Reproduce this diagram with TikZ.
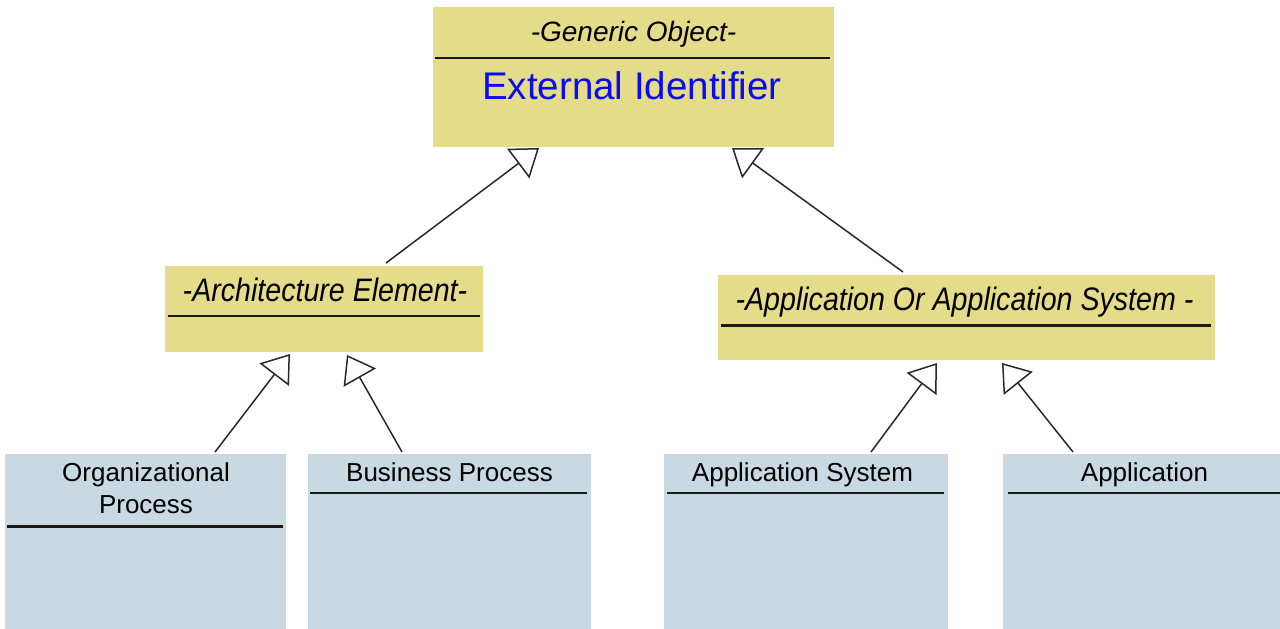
\documentclass[tikz,border=0pt]{standalone}
\usepackage{fontspec}
\setmainfont{Liberation Sans}
\newfontfamily\narrowsans{Liberation Sans}[FakeStretch=0.88]
\usetikzlibrary{arrows.meta}
\definecolor{umlyellow}{RGB}{228,220,136}
\definecolor{umlblue}{RGB}{200,217,225}
\definecolor{idblue}{RGB}{10,10,245}
\definecolor{linegray}{RGB}{40,40,40}
\tikzset{
  abox/.style={fill=umlyellow, draw=none},
  cbox/.style={fill=umlblue, draw=none},
  sepline/.style={line width=2.2pt, draw=black!90},
  atitle/.style={anchor=base, inner sep=0pt, font=\fontsize{28}{32}\selectfont\itshape},
  ntitle/.style={anchor=base, inner sep=0pt, font=\narrowsans\fontsize{32.5}{36}\selectfont\itshape},
  ctitle/.style={anchor=base, inner sep=0pt, font=\fontsize{26}{32}\selectfont},
  gen/.style={draw=linegray, line width=1.5pt, -{Triangle[open, length=26pt, width=37pt, line width=1.5pt]}}
}
\begin{document}
\begin{tikzpicture}[x=1pt, y=-1pt]
\useasboundingbox (0,0) rectangle (1280,629);
% Generic Object
\path[abox] (433,7) rectangle (834,147);
\draw[sepline] (435,58) -- (830,58);
\node[atitle] (goT) at (633.5,41) {-Generic Object-};
\node[anchor=base, inner sep=0pt, text=idblue, font=\fontsize{38.5}{42}\selectfont] (ext) at (632,99) {External Identifier};

% Architecture Element
\path[abox] (165,266) rectangle (483,352);
\draw[sepline] (168,316) -- (480,316);
\node[ntitle] (archT) at (325,301) {-Architecture Element-};

% Application Or Application System
\path[abox] (718,275) rectangle (1215,360);
\draw[sepline] (721,325.5) -- (1211,325.5);
\node[ntitle] (appOrT) at (964.5,310) {-Application Or Application System -};

% children
\path[cbox] (5,454) rectangle (286,629);
\draw[sepline] (7,526.5) -- (283,526.5);
\node[ctitle] (orgT) at (146,481) {Organizational};
\node[ctitle] (orgT2) at (146,513) {Process};

\path[cbox] (308,454) rectangle (591,629);
\draw[sepline] (310,493) -- (587,493);
\node[ctitle] (busT) at (449.5,481) {Business Process};

\path[cbox] (664,454) rectangle (948,629);
\draw[sepline] (667,493) -- (944,493);
\node[ctitle] (appSysT) at (802.5,481) {Application System};

\path[cbox] (1003,454) rectangle (1280,629);
\draw[sepline] (1008,493) -- (1280,493);
\node[ctitle] (appT) at (1144.5,481) {Application};

% connector end points
\coordinate (archTop) at (386,263);
\coordinate (goB1) at (539,148);
\coordinate (appOrTop) at (903,272);
\coordinate (goB2) at (732,148);
\coordinate (orgTop) at (215,452);
\coordinate (archB1) at (290,354);
\coordinate (busTop) at (402,452);
\coordinate (archB2) at (347,355);
\coordinate (appSysTop) at (871,452);
\coordinate (appOrB1) at (937,363);
\coordinate (appTop) at (1073,452);
\coordinate (appOrB2) at (1002,363);

\draw[gen] (archTop) -- (goB1);
\draw[gen] (appOrTop) -- (goB2);
\draw[gen] (orgTop) -- (archB1);
\draw[gen] (busTop) -- (archB2);
\draw[gen] (appSysTop) -- (appOrB1);
\draw[gen] (appTop) -- (appOrB2);
\end{tikzpicture}
\end{document}
